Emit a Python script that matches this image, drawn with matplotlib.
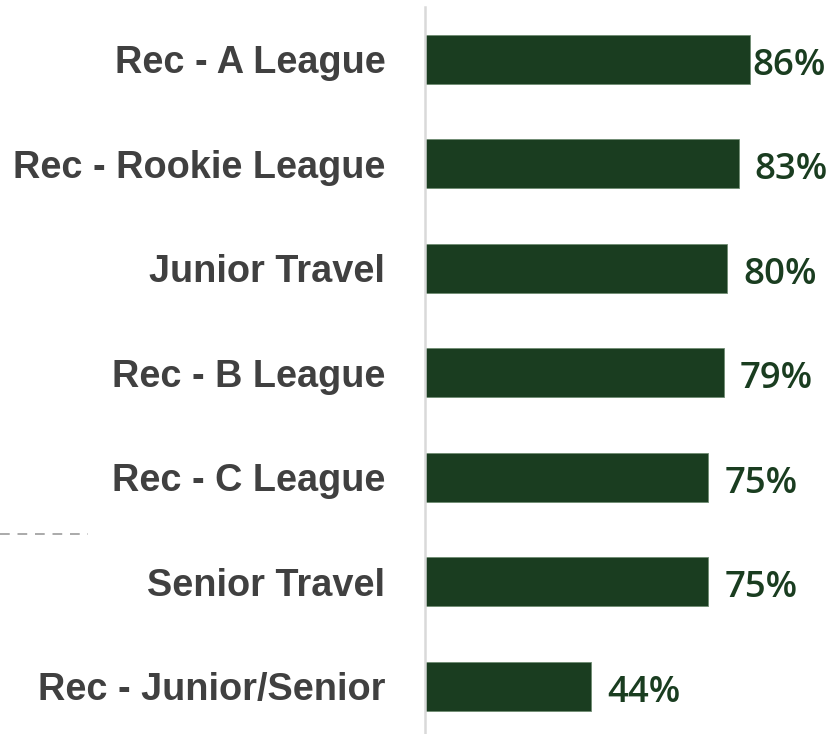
import matplotlib
matplotlib.use("Agg")
import matplotlib.pyplot as plt
from matplotlib.lines import Line2D

categories = ["Rec - A League", "Rec - Rookie League", "Junior Travel", "Rec - B League",
              "Rec - C League", "Senior Travel", "Rec - Junior/Senior"]
values = [86, 83, 80, 79, 75, 75, 44]
value_labels = ["86%", "83%", "80%", "79%", "75%", "75%", "44%"]

W, H = 840, 734
fig = plt.figure(figsize=(W / 100, H / 100), dpi=100)
ax_left, ax_right = 425, 425 + 415.8
ax_top, ax_bot = 7, 738.5
ax = fig.add_axes([ax_left / W, 1 - ax_bot / H, (ax_right - ax_left) / W, (ax_bot - ax_top) / H])

bar_color = "#1a3d20"
y = list(range(len(categories)))
ax.barh(y, values, height=0.47, color=bar_color, edgecolor="#6f8c72", linewidth=0.6)
ax.set_xlim(0, 110)
ax.set_ylim(len(categories) - 0.5, -0.5)

ax.set_yticks(y)
ax.set_yticklabels(categories, fontfamily="Liberation Sans", fontweight="bold", fontsize=27.3, color="#404040")
ax.tick_params(axis="y", length=0, pad=28.6)
ax.set_xticks([])

for s in ["top", "right", "bottom"]:
    ax.spines[s].set_visible(False)
ax.spines["left"].set_color("#d9d9d9")
ax.spines["left"].set_linewidth(1.8)

vmax = max(values)
for yi, v, lab in zip(y, values, value_labels):
    off = 1.5 if v == vmax else 11.5
    ax.annotate(lab, (v, yi), xytext=(off, -1.5), textcoords="offset points",
                ha="left", va="center_baseline", fontfamily="Open Sans", fontweight="semibold",
                fontsize=26.3, color=bar_color)

fig.add_artist(Line2D([0, 88 / W], [1 - 534 / H, 1 - 534 / H], transform=fig.transFigure,
                      color="#aaaaaa", linewidth=1.4, linestyle=(0, (5, 4))))

fig.savefig("out.png", dpi=100, facecolor="white")
